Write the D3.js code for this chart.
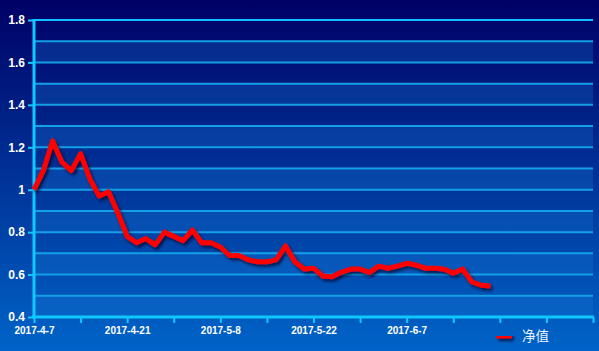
<!DOCTYPE html>
<html>
<head>
<meta charset="utf-8">
<script src="https://cdn.jsdelivr.net/npm/d3@7"></script>
<style>
html,body{margin:0;padding:0;overflow:hidden;background:#000066;}
svg{display:block;}
</style>
</head>
<body>
<svg id="chart" width="599" height="351"></svg>
<script>
// ---- data ----
const dates = [
  "2017-4-7","2017-4-10","2017-4-11","2017-4-12","2017-4-13","2017-4-14",
  "2017-4-17","2017-4-18","2017-4-19","2017-4-20","2017-4-21",
  "2017-4-24","2017-4-25","2017-4-26","2017-4-27","2017-4-28",
  "2017-5-2","2017-5-3","2017-5-4","2017-5-5","2017-5-8",
  "2017-5-9","2017-5-10","2017-5-11","2017-5-12","2017-5-15",
  "2017-5-16","2017-5-17","2017-5-18","2017-5-19","2017-5-22",
  "2017-5-23","2017-5-24","2017-5-25","2017-5-26","2017-5-31",
  "2017-6-1","2017-6-2","2017-6-5","2017-6-6","2017-6-7",
  "2017-6-8","2017-6-9","2017-6-12","2017-6-13","2017-6-14",
  "2017-6-15","2017-6-16","2017-6-19","2017-6-20","2017-6-21",
  "2017-6-22","2017-6-23","2017-6-26","2017-6-27","2017-6-28",
  "2017-6-29","2017-6-30","2017-7-3","2017-7-4","2017-7-5"
];
const netValues = [
  1.00, 1.09, 1.23, 1.13, 1.09, 1.17, 1.05, 0.97, 0.99, 0.89,
  0.78, 0.75, 0.77, 0.74, 0.80, 0.78, 0.76, 0.81, 0.75, 0.75,
  0.73, 0.69, 0.69, 0.67, 0.66, 0.66, 0.67, 0.735, 0.66, 0.626,
  0.63, 0.593, 0.59, 0.612, 0.626, 0.626, 0.61, 0.64, 0.63, 0.64,
  0.653, 0.645, 0.63, 0.63, 0.626, 0.607, 0.626, 0.565, 0.55, 0.546
];
const yTicks = [0.4, 0.6, 0.8, 1, 1.2, 1.4, 1.6, 1.8];
const yGrid = [0.4,0.5,0.6,0.7,0.8,0.9,1.0,1.1,1.2,1.3,1.4,1.5,1.6,1.7,1.8];
const seriesName = "净值";

// ---- layout ----
const W = 599, H = 351;
const L = 34, R = 593, T = 20, B = 317;
const svg = d3.select("#chart");
const defs = svg.append("defs");

const bg = defs.append("linearGradient").attr("id","bg").attr("x1",0).attr("y1",0).attr("x2",0).attr("y2",1);
bg.append("stop").attr("offset","0%").attr("stop-color","#000066");
bg.append("stop").attr("offset","100%").attr("stop-color","#0064c8");

const sh = defs.append("filter").attr("id","shadow").attr("filterUnits","userSpaceOnUse")
  .attr("x",0).attr("y",0).attr("width",W).attr("height",H);
sh.append("feDropShadow").attr("dx",2).attr("dy",2.5).attr("stdDeviation",1.5)
  .attr("flood-color","#000022").attr("flood-opacity",0.7);

svg.append("rect").attr("width",W).attr("height",H).attr("fill","url(#bg)");

const x = d3.scaleLinear().domain([0, dates.length - 1]).range([L, R]);
const y = d3.scaleLinear().domain([0.4, 1.8]).range([B, T]);

// alternating bands
const bands = d3.range(0, yGrid.length - 1).filter(i => i % 2 === 0);
svg.append("g").selectAll("rect").data(bands).join("rect")
  .attr("x", L).attr("width", R - L)
  .attr("y", i => y(yGrid[i + 1]))
  .attr("height", i => y(yGrid[i]) - y(yGrid[i + 1]))
  .attr("fill", "#1a7ad8").attr("fill-opacity", 0.28);

// grid lines
svg.append("g").selectAll("line").data(yGrid.slice(1)).join("line")
  .attr("x1", L).attr("x2", R)
  .attr("y1", d => y(d)).attr("y2", d => y(d))
  .attr("stroke", (d,i) => i === yGrid.length - 2 ? "#10c0ff" : "#14a0e6")
  .attr("stroke-width", 2);

// y axis
const yAxis = d3.axisLeft(y).tickValues(yTicks).tickSize(6).tickPadding(3)
  .tickFormat(d => d3.format("")(+d.toFixed(1)));
const gy = svg.append("g").attr("transform", `translate(${L},0)`).call(yAxis);
gy.select(".domain").remove();
gy.selectAll(".tick line").attr("stroke", "#10c8ff").attr("stroke-width", 2);
gy.selectAll(".tick text").attr("fill", "#ffffff").attr("font-family", "Liberation Sans, Arial, sans-serif")
  .attr("font-size", 12).attr("font-weight", "bold");
svg.append("line").attr("x1", L).attr("x2", L).attr("y1", T - 1).attr("y2", B + 1)
  .attr("stroke", "#10c8ff").attr("stroke-width", 3);

// x axis
const xTickIdx = d3.range(0, dates.length, 5);
const xAxis = d3.axisBottom(x).tickValues(xTickIdx).tickSize(6).tickPadding(4)
  .tickFormat(i => i % 10 === 0 && i <= 40 ? dates[i] : "");
const gx = svg.append("g").attr("transform", `translate(0,${B})`).call(xAxis);
gx.select(".domain").remove();
gx.selectAll(".tick line").attr("stroke", "#10c8ff").attr("stroke-width", 2);
gx.selectAll(".tick text").attr("fill", "#ffffff").attr("font-family", "Liberation Sans, Arial, sans-serif")
  .attr("font-size", 10).attr("font-weight", "bold");
svg.append("line").attr("x1", L - 2).attr("x2", R + 1).attr("y1", B).attr("y2", B)
  .attr("stroke", "#10c8ff").attr("stroke-width", 3);

// line
const line = d3.line().x((d, i) => x(i)).y(d => y(d));
svg.append("path").datum(netValues)
  .attr("d", line).attr("fill", "none")
  .attr("stroke", "#ff0000").attr("stroke-width", 5)
  .attr("stroke-linejoin", "round").attr("stroke-linecap", "butt")
  .attr("filter", "url(#shadow)");

// legend
const lg = svg.append("g").attr("transform", "translate(496,336)");
lg.append("rect").attr("x", 0).attr("y", -2.5).attr("width", 16).attr("height", 5).attr("rx", 1.5)
  .attr("fill", "#ff0000").attr("filter", "url(#shadow)");
lg.append("text").attr("x", 26).attr("y", 5).text(seriesName)
  .attr("fill", "#e6f0ff").attr("font-family", "Noto Sans CJK SC, sans-serif").attr("font-size", 13.5);
</script>
</body>
</html>
